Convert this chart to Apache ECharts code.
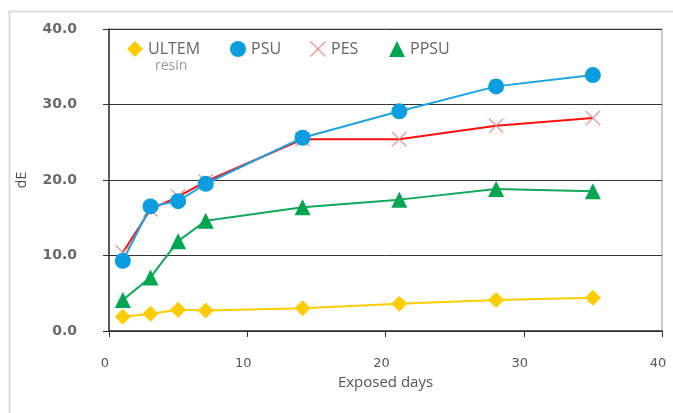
<!DOCTYPE html>
<html><head><meta charset="utf-8">
<script src="https://cdn.jsdelivr.net/npm/echarts@6/dist/echarts.min.js"></script>
<style>html,body{margin:0;padding:0;background:#fff}#c{width:673px;height:413px}</style>
</head><body><div id="c"></div>
<script>
const days = [1, 3, 5, 7, 14, 21, 28, 35];
const ultem = [1.9, 2.3, 2.8, 2.7, 3.0, 3.6, 4.1, 4.4];
const psu = [9.3, 16.5, 17.2, 19.5, 25.6, 29.1, 32.4, 33.9];
const pes = [10.4, 16.1, 17.8, 19.8, 25.4, 25.4, 27.2, 28.2];
const ppsu = [4.1, 7.1, 11.9, 14.6, 16.4, 17.4, 18.8, 18.5];
const seriesNames = ['ULTEM', 'PSU', 'PES', 'PPSU'];

const t = 5;
const xPath = 'path://M0,' + t + 'L' + t + ',0L50,' + (50 - t) + 'L' + (100 - t) + ',0L100,' + t + 'L' + (50 + t) + ',50L100,' + (100 - t) + 'L' + (100 - t) + ',100L50,' + (50 + t) + 'L' + t + ',100L0,' + (100 - t) + 'L' + (50 - t) + ',50Z';

const pair = arr => days.map((d, i) => [d, arr[i]]);
const font = '"Open Sans", "Noto Sans", sans-serif';
const numFont = '"DejaVu Sans", sans-serif';

function mkLegend(name, icon, left) {
  return {
    left: left, top: 41, padding: 0, itemWidth: 16, itemHeight: 16, itemGap: 0,
    selectedMode: false,
    data: [{ name: name, icon: icon }],
    textStyle: { color: '#666', fontSize: 16, fontFamily: font }
  };
}

const chart = echarts.init(document.getElementById('c'));
chart.setOption({
  animation: false,
  backgroundColor: '#fff',
  graphic: [
    { type: 'rect', left: 7, top: 9, shape: { width: 700, height: 500 }, style: { fill: 'none', stroke: '#dcdcdc', lineWidth: 2 } },
    { type: 'text', left: 155, top: 59, style: { text: 'resin', fill: '#999', fontSize: 14, fontFamily: font } }
  ],
  legend: [
    mkLegend('ULTEM', 'diamond', 127),
    mkLegend('PSU', 'circle', 230),
    mkLegend('PES', xPath, 310),
    mkLegend('PPSU', 'triangle', 389)
  ],
  grid: { left: 109, top: 29, right: 11, bottom: 82, show: true, borderColor: '#999', borderWidth: 1 },
  xAxis: {
    type: 'value', min: 0, max: 40, interval: 10,
    name: 'Exposed days', nameLocation: 'middle', nameGap: 43,
    nameTextStyle: { color: '#555', fontSize: 15, fontFamily: font },
    axisLine: { show: true, lineStyle: { color: '#333', width: 1.5 } },
    axisTick: { show: true, length: 6, lineStyle: { color: '#333' } },
    axisLabel: { color: '#555', fontSize: 13, fontFamily: numFont, margin: 26, padding: [0, 8, 0, 0] },
    splitLine: { show: false }
  },
  yAxis: {
    type: 'value', min: 0, max: 40, interval: 10,
    name: 'dE', nameLocation: 'middle', nameGap: 80, nameRotate: 90,
    nameTextStyle: { color: '#555', fontSize: 14, fontFamily: font },
    axisLine: { show: true, lineStyle: { color: '#333', width: 1.5 } },
    axisTick: { show: true, length: 6, lineStyle: { color: '#333' } },
    axisLabel: { color: '#6a6a6a', fontSize: 14, fontWeight: 'bold', fontFamily: numFont, margin: 32, padding: [0, 0, 10, 0],
      formatter: v => v.toFixed(1) },
    splitLine: { show: true, lineStyle: { color: '#333', width: 1 } }
  },
  series: [
    { name: seriesNames[0], type: 'line', data: pair(ultem), symbol: 'diamond', symbolSize: 16,
      itemStyle: { color: '#ffcc00' }, lineStyle: { color: '#ffcc00', width: 2 }, z: 3 },
    { name: seriesNames[1], type: 'line', data: pair(psu), symbol: 'circle', symbolSize: 16,
      itemStyle: { color: '#0a9ee0' }, lineStyle: { color: '#1ca3e3', width: 2 }, z: 4 },
    { name: seriesNames[2], type: 'line', data: pair(pes), symbol: xPath, symbolSize: 15,
      itemStyle: { color: '#f47f7f' }, lineStyle: { color: '#ff1010', width: 2 }, z: 3 },
    { name: seriesNames[3], type: 'line', data: pair(ppsu), symbol: 'triangle', symbolSize: 16,
      itemStyle: { color: '#00a650' }, lineStyle: { color: '#13a85a', width: 2 }, z: 3 }
  ]
});
</script></body></html>
